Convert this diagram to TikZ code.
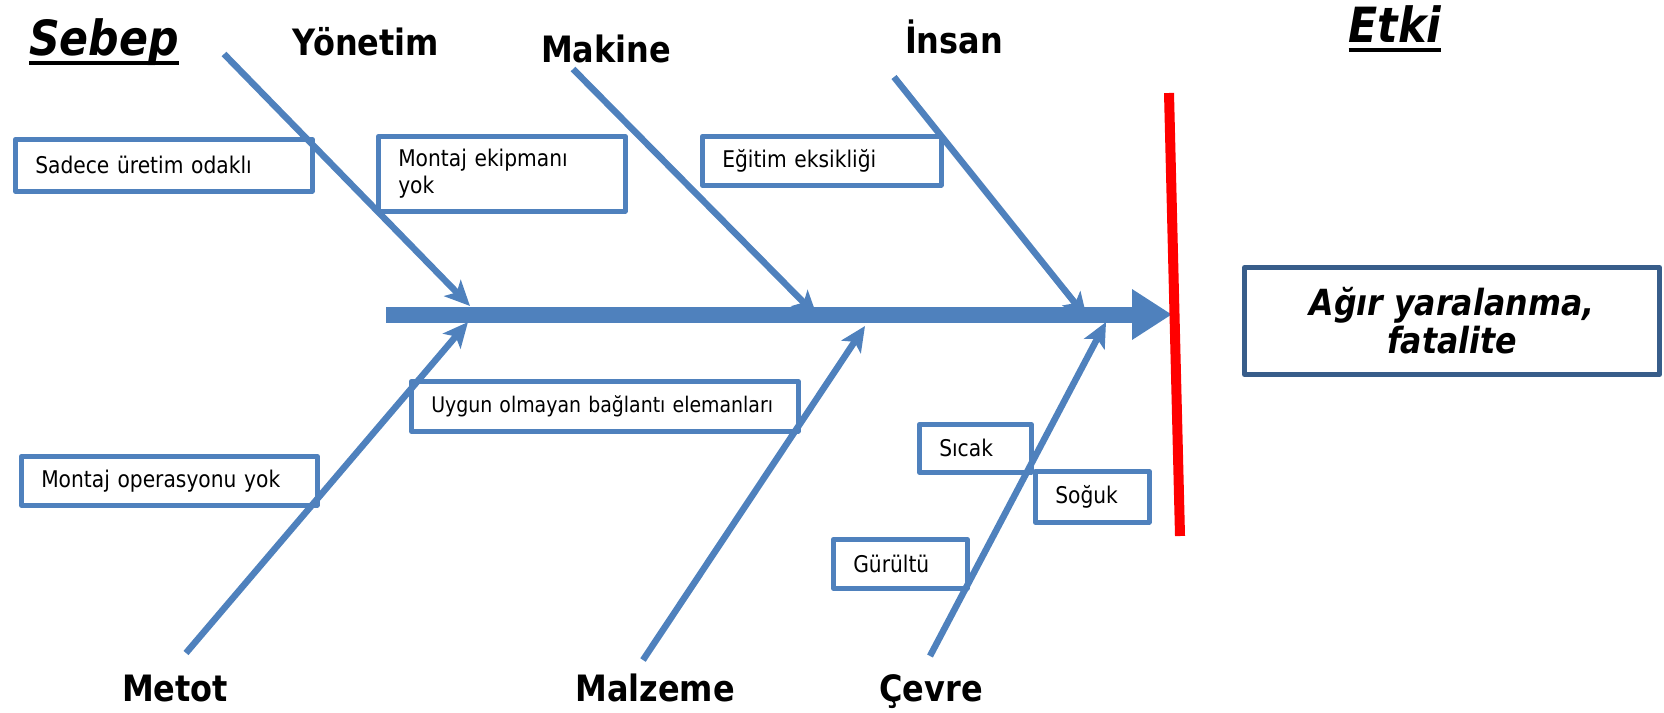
\documentclass[tikz,border=0pt]{standalone}
\usepackage{fontspec}
\setmainfont[FakeStretch=0.88]{DejaVu Sans}
\usetikzlibrary{arrows.meta}
\definecolor{bonec}{HTML}{4F81BD}
\definecolor{effc}{HTML}{385D8A}
\newcommand{\ulhead}[1]{\setbox0\hbox{#1}\rlap{\vrule height -6pt depth 9.5pt width \wd0}\box0}
\tikzset{
  bone/.style={draw=bonec,line width=6.5pt,-{Stealth[length=25pt,width=23pt,inset=6pt]}},
  spine/.style={draw=bonec,line width=16pt,-{Triangle[length=40pt,width=48pt]}},
  cause/.style={draw=bonec,line width=4.5pt,fill=white,anchor=north west,align=left,inner xsep=20pt,inner ysep=0pt},
  cat/.style={anchor=base,font=\fontsize{36.3}{44}\selectfont\bfseries},
  head/.style={anchor=base,font=\fontsize{48.5}{56}\selectfont\bfseries\itshape}
}
\begin{document}
\begin{tikzpicture}[x=1pt,y=-1pt,line join=round,font=\fontsize{23}{27}\selectfont]
\useasboundingbox (0,0) rectangle (1664,712);
% headings
\node[head] (sebep) at (104,55) {\ulhead{Sebep}};
\node[head] (etki) at (1395,42) {\ulhead{Etki}};
\node[cat] (yonetim) at (366,55) {Yönetim};
\node[cat] (makine) at (606,62) {Makine};
\node[cat] (insan) at (954,53) {İnsan};
\node[cat] (metot) at (175,701) {Metot};
\node[cat] (malzeme) at (655,701) {Malzeme};
\node[cat] (cevre) at (931,701) {Çevre};
% causes
\node[cause,text width=257pt,minimum height=52pt] (sadece) at (13,137) {Sadece üretim odaklı};
\node[cause,text width=207pt,minimum height=75pt] (ekipman) at (376,134) {Montaj ekipmanı\\yok};
\node[cause,text width=199pt,minimum height=49pt] (egitim) at (700,134) {Eğitim eksikliği};
\node[cause,text width=347pt,minimum height=50pt,font=\fontsize{21.5}{26}\selectfont] (uygun) at (409,379) {\mbox{Uygun olmayan bağlantı elemanları}};
\node[cause,text width=256pt,minimum height=49pt] (operasyon) at (19,454) {Montaj operasyonu yok};
\node[cause,text width=72pt,minimum height=48pt] (sicak) at (917,422) {Sıcak};
\node[cause,text width=74pt,minimum height=51pt] (soguk) at (1033,469) {Soğuk};
\node[cause,text width=94pt,minimum height=49pt] (gurultu) at (831,537) {Gürültü};
% effect
\node[draw=effc,line width=5pt,anchor=north west,minimum width=415pt,minimum height=107pt,align=center,font=\fontsize{36}{38}\selectfont\bfseries\itshape] (sonuc) at (1242,265) {Ağır yaralanma,\\fatalite};
% spine and bones
\coordinate (spine-s) at (386,314.5); \coordinate (spine-e) at (1172,314.5);
\draw[spine] (spine-s) -- (spine-e);
\coordinate (yon-s) at (224,54); \coordinate (yon-e) at (470,306);
\coordinate (mak-s) at (573,69); \coordinate (mak-e) at (817,316);
\coordinate (ins-s) at (894,77); \coordinate (ins-e) at (1087,318);
\coordinate (met-s) at (186,653); \coordinate (met-e) at (468,322);
\coordinate (mal-s) at (643,660); \coordinate (mal-e) at (865,326);
\coordinate (cev-s) at (930,656); \coordinate (cev-e) at (1106,322);
\draw[bone] (yon-s) -- (yon-e); \draw[bone] (mak-s) -- (mak-e); \draw[bone] (ins-s) -- (ins-e);
\draw[bone] (met-s) -- (met-e); \draw[bone] (mal-s) -- (mal-e); \draw[bone] (cev-s) -- (cev-e);
% effect line
\coordinate (red-t) at (1169,93); \coordinate (red-b) at (1180,536);
\draw[red,line width=10pt] (red-t) -- (red-b);
\end{tikzpicture}
\end{document}
